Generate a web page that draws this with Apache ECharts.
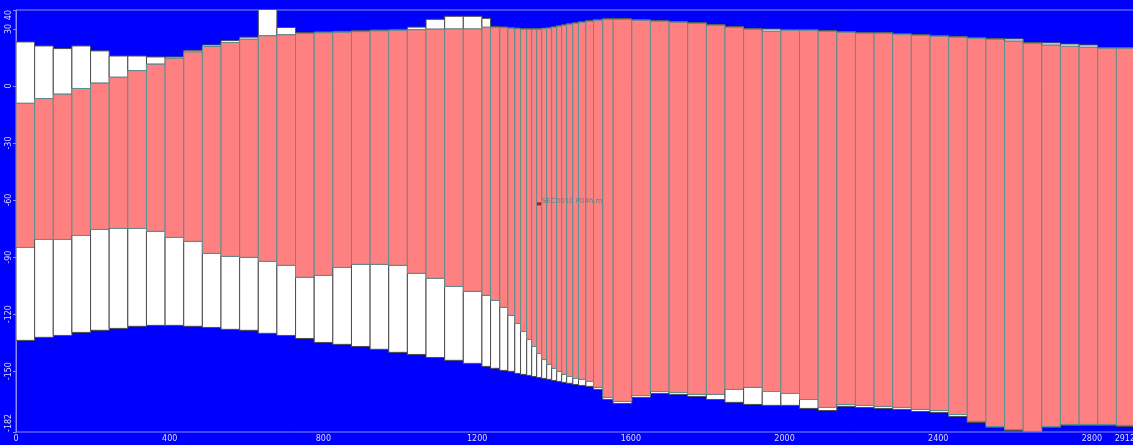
<!DOCTYPE html>
<html>
<head>
<meta charset="utf-8">
<title>Sección</title>
<script src="https://cdn.jsdelivr.net/npm/echarts@6/dist/echarts.min.js"></script>
<style>
  html, body { margin: 0; padding: 0; background: #0000ff; overflow: hidden; }
  #chart { width: 1133px; height: 445px; }
</style>
</head>
<body>
<div id="chart"></div>
<script>
// Column boundaries along the section (distance units)
const stations = [
  0, 48.5, 97, 145.5, 194, 242.5, 291, 339.5, 388, 436.5, 485, 533.5, 582,
  630.5, 679, 727.5, 776, 824.5, 873, 921.5, 970, 1018.5, 1067, 1115.5, 1164,
  1212.5,
  1235, 1259, 1280, 1298, 1313, 1329, 1342, 1355, 1368, 1381, 1394, 1407, 1420,
  1433, 1449, 1464, 1483, 1503, 1527, 1554,
  1602.5, 1651, 1699.5, 1748, 1796.5, 1845, 1893.5, 1942, 1990.5, 2039, 2087.5,
  2136, 2184.5, 2233, 2281.5, 2330, 2378.5, 2427, 2475.5, 2524, 2572.5, 2621,
  2669.5, 2718, 2766.5, 2815, 2863.5, 2912
];

// Top of the upper white cover in each column
const groundTop = [
  23.2, 21.1, 19.7, 21.1, 18.5, 15.8, 15.8, 15.3, 15.3, 18.8, 21.6, 23.9, 25.7,
  41.0, 30.8, 28.1, 28.5, 28.8, 29.1, 29.5, 29.8, 31.0, 35.1, 36.7, 36.7,
  35.6, 31.3, 31.1, 30.8, 30.5, 30.3, 30.3, 30.3, 30.3, 30.5, 30.8, 31.3, 31.8,
  32.3, 32.9, 33.4, 33.9, 34.5, 35.0, 35.5,
  35.5, 35.0, 34.5, 34.0, 33.4, 32.4, 31.3, 30.3, 30.0, 29.7, 29.7, 29.2, 28.7,
  28.2, 28.2, 27.6, 27.1, 26.6, 26.1, 25.5, 25.0, 24.8, 22.9, 22.7, 22.1, 21.6,
  20.3, 20.3
];

// Top of the red layer
const layerTop = [
  -9.1, -6.6, -4.3, -1.3, 1.5, 4.6, 8.1, 11.5, 14.6, 17.9, 20.8, 22.9, 24.6,
  26.4, 26.9, 27.6, 28.0, 28.3, 28.6, 29.0, 29.3, 29.6, 29.9, 30.0, 30.0,
  30.9, 30.9, 30.7, 30.4, 30.1, 29.9, 29.9, 29.9, 29.9, 30.1, 30.4, 30.9, 31.4,
  31.9, 32.5, 33.0, 33.5, 34.1, 34.6, 35.1,
  35.1, 34.6, 34.1, 33.6, 33.0, 32.0, 30.9, 29.9, 28.8, 29.3, 29.3, 28.8, 28.3,
  27.8, 27.8, 27.2, 26.7, 26.2, 25.7, 25.1, 24.6, 23.6, 22.5, 21.5, 20.9, 20.4,
  19.9, 19.9
];

// Base of the red layer
const layerBase = [
  -84.9, -80.7, -80.7, -78.6, -75.4, -74.9, -74.9, -76.4, -79.6, -81.7, -88.0,
  -89.6, -90.1, -92.2, -94.3, -100.6, -99.6, -95.4, -93.8, -93.8, -94.3, -98.5,
  -101.1, -105.4, -108.0,
  -110.1, -112.8, -116.4, -120.6, -124.9, -129.1, -133.3, -137.0, -140.7,
  -143.8, -146.4, -148.5, -150.1, -151.7, -152.8, -153.8, -154.3, -155.4,
  -158.5, -163.8,
  -165.9, -162.8, -160.7, -161.2, -162.2, -162.2, -159.6, -158.5, -160.7,
  -161.7, -164.9, -169.1, -167.5, -168.0, -168.5, -169.1, -170.1, -170.7,
  -172.8, -176.4, -179.1, -180.7, -181.7, -179.1, -178.0, -178.0, -178.0,
  -178.5
];

// Base of the lower white unit
const groundBase = [
  -133.8, -132.2, -131.2, -129.6, -128.5, -127.5, -126.4, -125.9, -125.9,
  -126.4, -127.0, -128.0, -128.5, -130.1, -131.2, -132.8, -134.9, -135.9,
  -137.0, -138.5, -140.1, -141.2, -142.8, -144.3, -145.9,
  -147.5, -148.5, -149.6, -150.1, -151.2, -151.7, -152.2, -152.8, -153.3,
  -153.8, -154.3, -154.9, -155.4, -155.9, -156.4, -157.0, -157.5, -158.0,
  -159.6, -164.9,
  -167.0, -163.8, -161.7, -162.2, -163.3, -164.9, -166.4, -167.5, -168.0,
  -168.0, -169.6, -170.7, -168.5, -169.1, -169.6, -170.1, -171.2, -171.7,
  -173.8, -177.0, -179.6, -181.2, -182.8, -179.6, -178.5, -178.5, -178.5,
  -179.1
];

// Axis extent and labelled values
const xRange = [0, 2912];
const yRange = [-182, 40];
const xTicks = [0, 400, 800, 1200, 1600, 2000, 2400, 2800, 2912];
const yTicks = [-182, -150, -120, -90, -60, -30, 0, 30, 40];

// Section marker
const markerName = 'SEC0010 P04h.m';
const markerPoint = [1361, -62];

const columns = groundTop.map((g, i) => [
  stations[i], stations[i + 1], g, layerTop[i], layerBase[i], groundBase[i]
]);

const WHITE = { fill: '#ffffff', stroke: '#4d4d4d', lineWidth: 1 };
const SALMON = { fill: '#ff8080', stroke: '#5f8f8f', lineWidth: 1 };

function renderColumn(params, api) {
  const x0 = api.value(0), x1 = api.value(1);
  function box(yTop, yBot, style) {
    const a = api.coord([x0, yTop]);
    const b = api.coord([x1, yBot]);
    return {
      type: 'rect',
      shape: { x: a[0], y: a[1], width: b[0] - a[0], height: b[1] - a[1] },
      style: style
    };
  }
  return {
    type: 'group',
    children: [
      box(api.value(2), api.value(3), WHITE),
      box(api.value(4), api.value(5), WHITE),
      box(api.value(3), api.value(4), SALMON)
    ]
  };
}

const axisColor = '#8c8cff';
const labelColor = '#dcdcff';
const plainNumber = v => String(v);

const chart = echarts.init(document.getElementById('chart'), null, { renderer: 'canvas' });
chart.setOption({
  animation: false,
  backgroundColor: '#0000ff',
  grid: {
    left: 16, right: -2, top: 10, bottom: 13,
    containLabel: false,
    outerBoundsMode: 'none',
    show: true, borderColor: axisColor, borderWidth: 1,
    backgroundColor: 'transparent'
  },
  xAxis: {
    type: 'value', min: xRange[0], max: xRange[1],
    axisLine: { show: true, lineStyle: { color: axisColor, width: 1 } },
    axisTick: { show: true, length: 3, customValues: xTicks, lineStyle: { color: axisColor } },
    axisLabel: {
      customValues: xTicks, formatter: plainNumber, color: labelColor,
      fontSize: 8, fontFamily: 'DejaVu Sans', margin: 3,
      alignMaxLabel: 'right'
    },
    splitLine: { show: false }
  },
  yAxis: {
    type: 'value', min: yRange[0], max: yRange[1],
    axisLine: { show: true, lineStyle: { color: axisColor, width: 1 } },
    axisTick: { show: true, length: 3, customValues: yTicks, lineStyle: { color: axisColor } },
    axisLabel: {
      customValues: yTicks, formatter: plainNumber, color: labelColor,
      fontSize: 8, rotate: 90, fontFamily: 'DejaVu Sans', margin: 3,
      alignMinLabel: 'left', alignMaxLabel: 'right'
    },
    splitLine: { show: false }
  },
  series: [
    {
      type: 'custom',
      renderItem: renderColumn,
      clip: true,
      encode: { x: [0, 1], y: [2, 3, 4, 5] },
      data: columns,
      silent: true
    },
    {
      type: 'scatter',
      data: [markerPoint],
      symbol: 'rect',
      symbolSize: [4, 3],
      itemStyle: { color: '#9b0000' },
      label: {
        show: true, position: 'right', distance: 1, offset: [0, -3],
        formatter: markerName, color: '#2e8b8b', fontSize: 7,
        fontFamily: 'DejaVu Sans'
      },
      silent: true
    }
  ]
});
</script>
</body>
</html>
